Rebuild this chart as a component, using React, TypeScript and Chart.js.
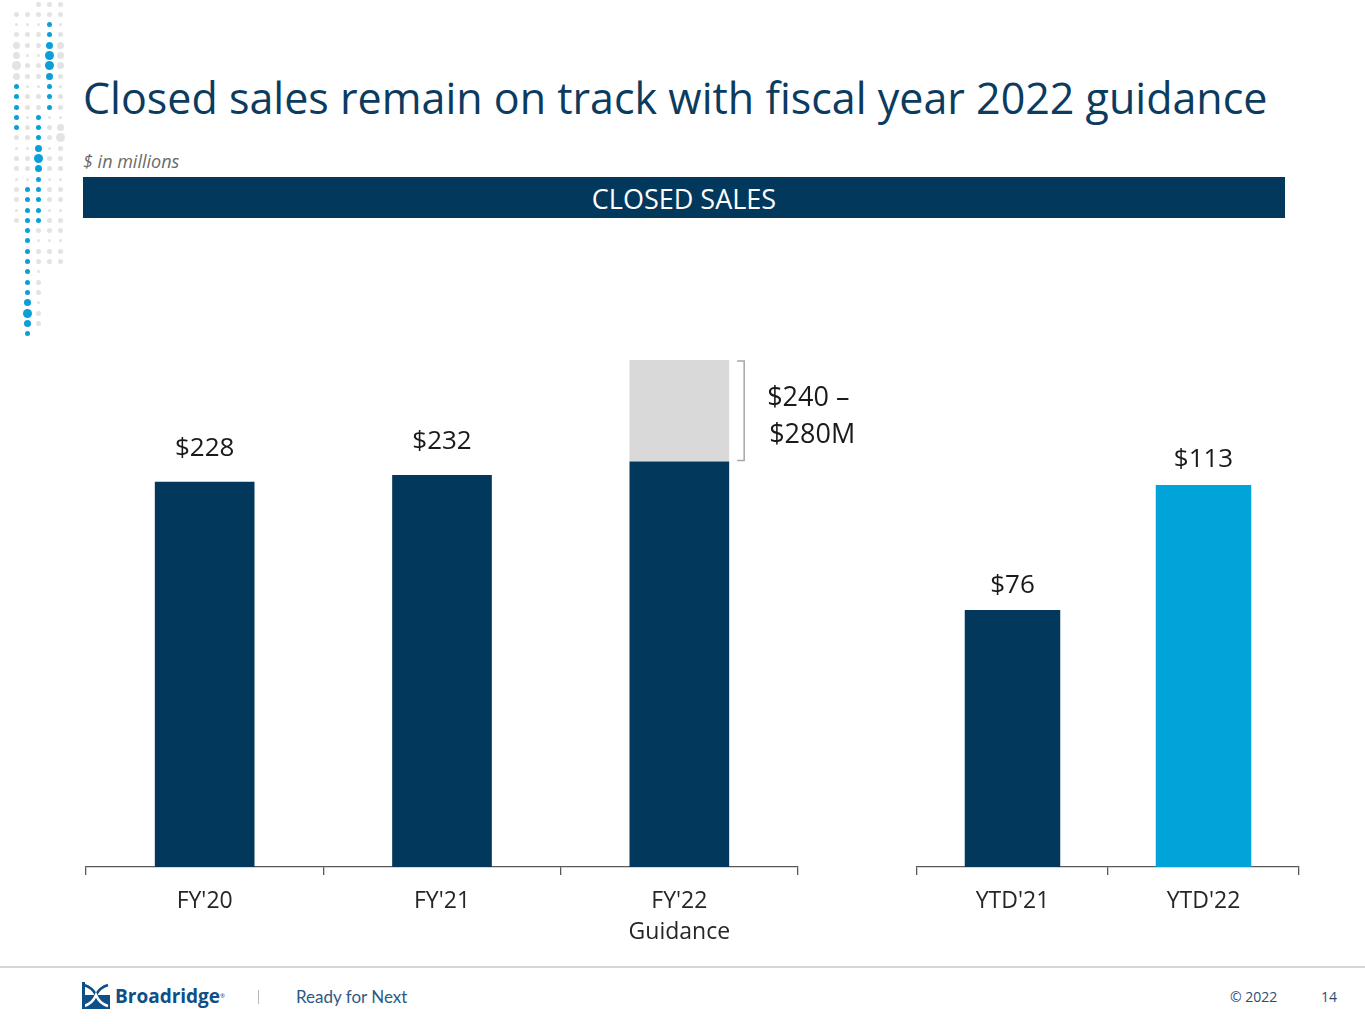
import { useEffect, useRef } from 'react';
import { Chart } from 'chart.js/auto';

// Left panel: full fiscal years
const fyCategories = [["FY'20"], ["FY'21"], ["FY'22", 'Guidance']];
const fyClosedSales = [228, 232, 240];
const fyGuidanceUpper = [0, 0, 60]; // top of the guidance range stacked above $240
const fyBarLabels = ['$228', '$232', ''];
const guidanceText = ['$240 \u2013', '$280M'];

// Right panel: year to date
const ytdCategories = ["YTD'21", "YTD'22"];
const ytdSales = [76, 113];
const ytdBarLabels = ['$76', '$113'];

const NAVY = '#02385b';
const BLUE = '#00a4d9';
const GRAY = '#d9d9d9';
const FONT = "'Open Sans', 'Noto Sans', sans-serif";

// draws "$xxx" above bars of dataset 0
function barLabelPlugin(labels, offset) {
  return {
    id: 'barLabels',
    afterDatasetsDraw(chart) {
      const ctx = chart.ctx;
      const meta = chart.getDatasetMeta(0);
      ctx.save();
      ctx.font = `26px ${FONT}`;
      ctx.fillStyle = '#1a1a1a';
      ctx.textAlign = 'center';
      ctx.textBaseline = 'middle';
      meta.data.forEach((bar, i) => {
        if (!labels[i]) return;
        ctx.fillText(labels[i], bar.x, bar.y - offset);
      });
      ctx.restore();
    },
  };
}

const bracketPlugin = {
  id: 'guidanceBracket',
  afterDatasetsDraw(chart) {
    const ctx = chart.ctx;
    const y = chart.scales.y;
    const bar = chart.getDatasetMeta(1).data[2];
    const right = bar.x + bar.width / 2;
    const bx = right + 15;
    const top = y.getPixelForValue(fyClosedSales[2] + fyGuidanceUpper[2]);
    const bottom = y.getPixelForValue(fyClosedSales[2]);
    ctx.save();
    ctx.strokeStyle = '#a6a6a6';
    ctx.lineWidth = 1.5;
    ctx.beginPath();
    ctx.moveTo(bx - 7, top + 1);
    ctx.lineTo(bx, top + 1);
    ctx.lineTo(bx, bottom - 1);
    ctx.lineTo(bx - 7, bottom - 1);
    ctx.stroke();
    ctx.font = `27px ${FONT}`;
    ctx.fillStyle = '#1a1a1a';
    ctx.textAlign = 'left';
    ctx.textBaseline = 'middle';
    const mid = (top + bottom) / 2;
    ctx.fillText(guidanceText[0], bx + 23, mid - 12);
    ctx.fillText(guidanceText[1], bx + 25, mid + 25);
    ctx.restore();
  },
};

function xAxis() {
  return {
    stacked: true,
    grid: {
      display: true,
      drawOnChartArea: false,
      drawTicks: true,
      tickLength: 8,
      color: '#595959',
      lineWidth: 1.3,
      offset: true,
    },
    border: { display: true, color: '#595959', width: 1.3 },
    ticks: {
      color: '#262626',
      font: { family: FONT, size: 23, lineHeight: 1.35 },
      padding: 11,
      maxRotation: 0,
    },
    afterFit: (s) => {
      s.height = 93;
    },
  };
}

function FyChart() {
  const ref = useRef(null);
  useEffect(() => {
    const chart = new Chart(ref.current, {
      type: 'bar',
      data: {
        labels: fyCategories,
        datasets: [
          { label: 'Closed sales', data: fyClosedSales, backgroundColor: NAVY },
          { label: 'Guidance range', data: fyGuidanceUpper, backgroundColor: GRAY },
        ],
      },
      options: {
        responsive: true,
        maintainAspectRatio: false,
        animation: false,
        layout: { padding: { left: 46, right: 102, top: 60, bottom: 0 } },
        datasets: { bar: { barPercentage: 0.42, categoryPercentage: 1 } },
        plugins: { legend: { display: false }, tooltip: { enabled: false } },
        scales: {
          x: xAxis(),
          y: { display: false, stacked: true, min: 0, max: 300 },
        },
      },
      plugins: [barLabelPlugin(fyBarLabels, 33), bracketPlugin],
    });
    return () => chart.destroy();
  }, []);
  return (
    <div style={{ position: 'absolute', left: 40, top: 300, width: 860, height: 660 }}>
      <canvas ref={ref}></canvas>
    </div>
  );
}

function YtdChart() {
  const ref = useRef(null);
  useEffect(() => {
    const chart = new Chart(ref.current, {
      type: 'bar',
      data: {
        labels: ytdCategories,
        datasets: [{ label: 'Closed sales YTD', data: ytdSales, backgroundColor: [NAVY, BLUE] }],
      },
      options: {
        responsive: true,
        maintainAspectRatio: false,
        animation: false,
        layout: { padding: { left: 37, right: 21, top: 60, bottom: 0 } },
        datasets: { bar: { barPercentage: 0.5, categoryPercentage: 1 } },
        plugins: { legend: { display: false }, tooltip: { enabled: false } },
        scales: {
          x: xAxis(),
          y: { display: false, min: 0, max: 150 },
        },
      },
      plugins: [barLabelPlugin(ytdBarLabels, 25)],
    });
    return () => chart.destroy();
  }, []);
  return (
    <div style={{ position: 'absolute', left: 880, top: 300, width: 440, height: 660 }}>
      <canvas ref={ref}></canvas>
    </div>
  );
}

// decorative dot columns in the top-left corner
const dotColumns = [
  { x: 60, rows: [0, 25], blue: [], big: [5, 13] },
  { x: 49, rows: [0, 25], blue: [2, 10], big: [5, 6] },
  { x: 38, rows: [0, 31], blue: [11, 21], big: [15] },
  { x: 27, rows: [1, 32], blue: [18, 32], big: [30] },
  { x: 16, rows: [1, 21], blue: [8, 12], big: [5, 6] },
];

function Dots() {
  const dots = [];
  dotColumns.forEach((c) => {
    for (let r = c.rows[0]; r <= c.rows[1]; r++) {
      const isBlue = c.blue.length > 0 && r >= c.blue[0] && r <= c.blue[1];
      const big = c.big.includes(r);
      const near = c.big.some((b) => Math.abs(b - r) === 1);
      let size = big ? 9 : near ? 7 : 5;
      if (!isBlue && r % 3 === 2) size = Math.max(3, size - 2);
      dots.push(
        <div
          key={`${c.x}-${r}`}
          style={{
            position: 'absolute',
            left: c.x - size / 2,
            top: 4 + r * 10.3 - size / 2,
            width: size,
            height: size,
            borderRadius: '50%',
            background: isBlue ? '#0a9fd6' : '#e3e3e3',
          }}
        />
      );
    }
  });
  return <>{dots}</>;
}

export default function App() {
  return (
    <div
      style={{
        position: 'absolute',
        left: 0,
        top: 0,
        width: 1365,
        height: 1024,
        background: '#fff',
        overflow: 'hidden',
        fontFamily: FONT,
      }}
    >
      <Dots />
      <div
        style={{
          position: 'absolute',
          left: 83,
          top: 70,
          fontSize: 43,
          color: '#0c3b60',
          whiteSpace: 'nowrap',
          lineHeight: '56px',
        }}
      >
        Closed sales remain on track with fiscal year 2022 guidance
      </div>
      <div
        style={{
          position: 'absolute',
          left: 83,
          top: 149,
          fontSize: 18,
          fontStyle: 'italic',
          color: '#6b6b6b',
          lineHeight: '24px',
        }}
      >
        $ in millions
      </div>
      <div
        style={{
          position: 'absolute',
          left: 83,
          top: 177,
          width: 1202,
          height: 41,
          background: NAVY,
          color: '#fff',
          fontSize: 27,
          lineHeight: '43px',
          textAlign: 'center',
        }}
      >
        CLOSED SALES
      </div>
      <FyChart />
      <YtdChart />
      {/* footer */}
      <div style={{ position: 'absolute', left: 0, top: 966, width: 1365, height: 2, background: '#d6d6d6' }} />
      <svg style={{ position: 'absolute', left: 82, top: 982 }} width={28} height={27} viewBox="0 0 28 27">
        <rect x={0} y={0} width={28} height={27} fill="#ffffff" />
        <rect x={0} y={13} width={28} height={14} fill="#0d4f86" />
        <path d="M2 3 C 9 5, 12 9, 14 13 C 16 9, 19 5, 26 3" stroke="#0d4f86" strokeWidth={2.5} fill="none" />
        <path d="M2 24 C 9 22, 12 18, 14 13 C 16 18, 19 22, 26 24" stroke="#ffffff" strokeWidth={2.5} fill="none" />
        <rect x={0} y={0} width={3} height={27} fill="#0d4f86" />
      </svg>
      <div
        style={{
          position: 'absolute',
          left: 115,
          top: 983,
          fontSize: 19,
          fontWeight: 700,
          color: '#0d4f86',
          lineHeight: '26px',
        }}
      >
        Broadridge
        <span style={{ fontSize: 6, verticalAlign: 'top', fontWeight: 400 }}>®</span>
      </div>
      <div style={{ position: 'absolute', left: 258, top: 990, width: 1, height: 14, background: '#b8b8b8' }} />
      <div
        style={{
          position: 'absolute',
          left: 296,
          top: 984,
          fontSize: 17,
          fontFamily: 'Lato, sans-serif',
          color: '#2c5a86',
          lineHeight: '26px',
        }}
      >
        Ready for Next
      </div>
      <div style={{ position: 'absolute', left: 1230, top: 987, fontSize: 14, color: '#1f4e79', lineHeight: '20px' }}>
        © 2022
      </div>
      <div style={{ position: 'absolute', left: 1321, top: 987, fontSize: 14, color: '#1f4e79', lineHeight: '20px' }}>
        14
      </div>
    </div>
  );
}
